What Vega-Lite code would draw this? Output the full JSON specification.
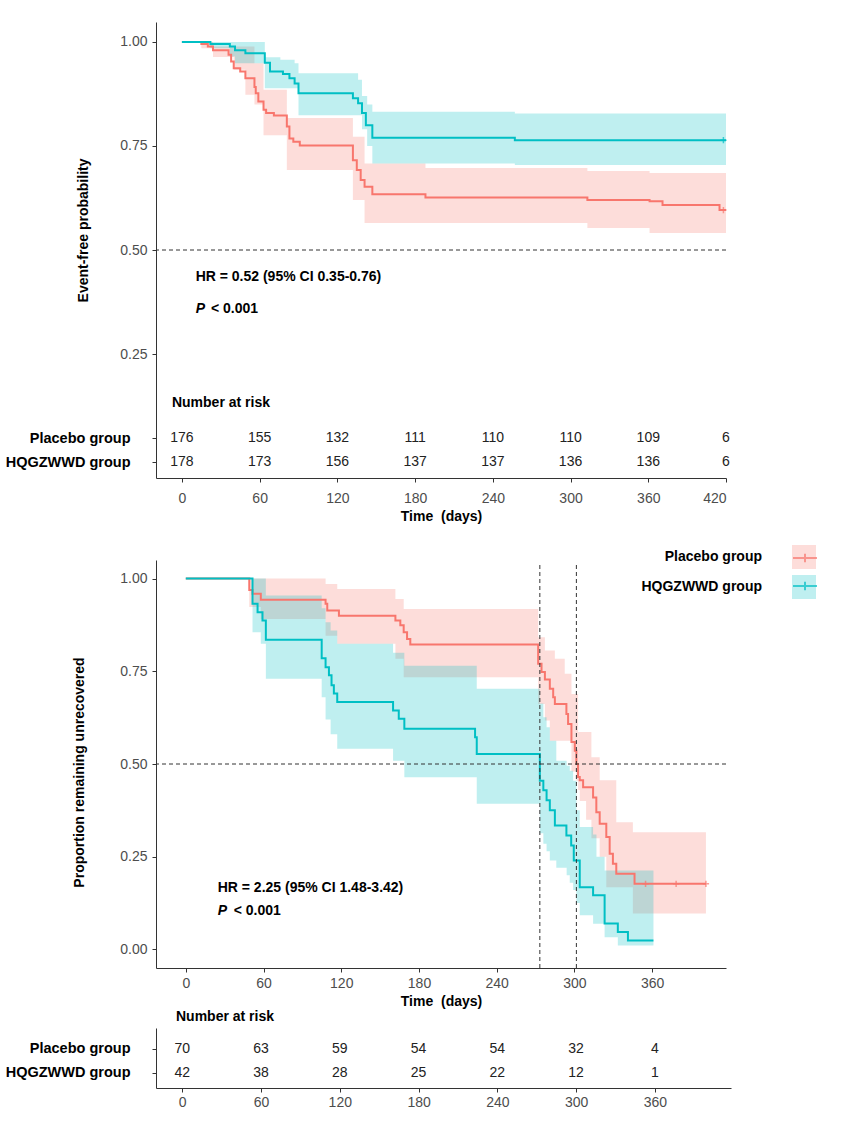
{
  "$schema": "https://vega.github.io/schema/vega-lite/v6.json",
  "background": "white",
  "padding": {"left": 5, "top": 22, "right": 5, "bottom": 5},
  "spacing": 2,
  "resolve": {"scale": {"fill": "independent", "stroke": "independent"}},
  "config": {
    "font": "Liberation Sans",
    "view": {"stroke": null},
    "axis": {"labelFont": "Liberation Sans", "labelFontSize": 14, "labelColor": "#4D4D4D", "titleFont": "Liberation Sans", "titleFontSize": 14, "titleFontWeight": "bold", "titleColor": "#000000", "domainColor": "#333333", "tickColor": "#333333", "tickSize": 4, "grid": false, "domainWidth": 1},
    "text": {"font": "Liberation Sans", "fontSize": 14}
  },
  "datasets": {
    "top_band": [
      {"arm": "Placebo group", "t": 0, "lo": 1, "hi": 1},
      {"arm": "Placebo group", "t": 15, "lo": 0.985, "hi": 1},
      {"arm": "Placebo group", "t": 24, "lo": 0.964, "hi": 0.989},
      {"arm": "Placebo group", "t": 40, "lo": 0.933, "hi": 0.989},
      {"arm": "Placebo group", "t": 49, "lo": 0.873, "hi": 0.989},
      {"arm": "Placebo group", "t": 56, "lo": 0.85, "hi": 0.949},
      {"arm": "Placebo group", "t": 63, "lo": 0.776, "hi": 0.885},
      {"arm": "Placebo group", "t": 81, "lo": 0.692, "hi": 0.817},
      {"arm": "Placebo group", "t": 132, "lo": 0.62, "hi": 0.772},
      {"arm": "Placebo group", "t": 141, "lo": 0.565, "hi": 0.708},
      {"arm": "Placebo group", "t": 188, "lo": 0.565, "hi": 0.697},
      {"arm": "Placebo group", "t": 313, "lo": 0.553, "hi": 0.69},
      {"arm": "Placebo group", "t": 361, "lo": 0.541, "hi": 0.685},
      {"arm": "Placebo group", "t": 420, "lo": 0.541, "hi": 0.685},
      {"arm": "HQGZWWD group", "t": 0, "lo": 1, "hi": 1},
      {"arm": "HQGZWWD group", "t": 22, "lo": 0.985, "hi": 1},
      {"arm": "HQGZWWD group", "t": 37, "lo": 0.965, "hi": 1},
      {"arm": "HQGZWWD group", "t": 41, "lo": 0.949, "hi": 1},
      {"arm": "HQGZWWD group", "t": 64, "lo": 0.889, "hi": 0.963},
      {"arm": "HQGZWWD group", "t": 76, "lo": 0.889, "hi": 0.957},
      {"arm": "HQGZWWD group", "t": 87, "lo": 0.889, "hi": 0.949},
      {"arm": "HQGZWWD group", "t": 90, "lo": 0.824, "hi": 0.925},
      {"arm": "HQGZWWD group", "t": 136, "lo": 0.824, "hi": 0.909},
      {"arm": "HQGZWWD group", "t": 139, "lo": 0.79, "hi": 0.87},
      {"arm": "HQGZWWD group", "t": 143, "lo": 0.75, "hi": 0.85},
      {"arm": "HQGZWWD group", "t": 147, "lo": 0.708, "hi": 0.832},
      {"arm": "HQGZWWD group", "t": 257, "lo": 0.704, "hi": 0.828},
      {"arm": "HQGZWWD group", "t": 420, "lo": 0.704, "hi": 0.828}
    ],
    "top_line": [
      {"group": "Placebo group", "t": 0, "s": 1},
      {"group": "Placebo group", "t": 15, "s": 0.995},
      {"group": "Placebo group", "t": 20, "s": 0.989},
      {"group": "Placebo group", "t": 24, "s": 0.98},
      {"group": "Placebo group", "t": 36, "s": 0.969},
      {"group": "Placebo group", "t": 38, "s": 0.953},
      {"group": "Placebo group", "t": 40, "s": 0.937},
      {"group": "Placebo group", "t": 45, "s": 0.929},
      {"group": "Placebo group", "t": 49, "s": 0.913},
      {"group": "Placebo group", "t": 56, "s": 0.892},
      {"group": "Placebo group", "t": 57, "s": 0.877},
      {"group": "Placebo group", "t": 59, "s": 0.857},
      {"group": "Placebo group", "t": 63, "s": 0.837},
      {"group": "Placebo group", "t": 65, "s": 0.829},
      {"group": "Placebo group", "t": 71, "s": 0.823},
      {"group": "Placebo group", "t": 81, "s": 0.797},
      {"group": "Placebo group", "t": 83, "s": 0.768},
      {"group": "Placebo group", "t": 86, "s": 0.76},
      {"group": "Placebo group", "t": 91, "s": 0.751},
      {"group": "Placebo group", "t": 132, "s": 0.716},
      {"group": "Placebo group", "t": 135, "s": 0.692},
      {"group": "Placebo group", "t": 138, "s": 0.668},
      {"group": "Placebo group", "t": 141, "s": 0.652},
      {"group": "Placebo group", "t": 147, "s": 0.634},
      {"group": "Placebo group", "t": 188, "s": 0.626},
      {"group": "Placebo group", "t": 313, "s": 0.62},
      {"group": "Placebo group", "t": 361, "s": 0.617},
      {"group": "Placebo group", "t": 371, "s": 0.608},
      {"group": "Placebo group", "t": 415, "s": 0.596},
      {"group": "Placebo group", "t": 420, "s": 0.596},
      {"group": "HQGZWWD group", "t": 0, "s": 1},
      {"group": "HQGZWWD group", "t": 22, "s": 0.995},
      {"group": "HQGZWWD group", "t": 37, "s": 0.989},
      {"group": "HQGZWWD group", "t": 41, "s": 0.98},
      {"group": "HQGZWWD group", "t": 49, "s": 0.973},
      {"group": "HQGZWWD group", "t": 64, "s": 0.95},
      {"group": "HQGZWWD group", "t": 68, "s": 0.929},
      {"group": "HQGZWWD group", "t": 78, "s": 0.923},
      {"group": "HQGZWWD group", "t": 83, "s": 0.913},
      {"group": "HQGZWWD group", "t": 87, "s": 0.9},
      {"group": "HQGZWWD group", "t": 90, "s": 0.877},
      {"group": "HQGZWWD group", "t": 132, "s": 0.865},
      {"group": "HQGZWWD group", "t": 136, "s": 0.853},
      {"group": "HQGZWWD group", "t": 139, "s": 0.829},
      {"group": "HQGZWWD group", "t": 142, "s": 0.8},
      {"group": "HQGZWWD group", "t": 147, "s": 0.77},
      {"group": "HQGZWWD group", "t": 257, "s": 0.764},
      {"group": "HQGZWWD group", "t": 420, "s": 0.764}
    ],
    "top_censor": [
      {"group": "HQGZWWD group", "t": 418, "s": 0.764},
      {"group": "Placebo group", "t": 418, "s": 0.596}
    ],
    "top_risk": [
      {"group": "Placebo group", "t": 0, "n": 176},
      {"group": "Placebo group", "t": 60, "n": 155},
      {"group": "Placebo group", "t": 120, "n": 132},
      {"group": "Placebo group", "t": 180, "n": 111},
      {"group": "Placebo group", "t": 240, "n": 110},
      {"group": "Placebo group", "t": 300, "n": 110},
      {"group": "Placebo group", "t": 360, "n": 109},
      {"group": "Placebo group", "t": 420, "n": 6},
      {"group": "HQGZWWD group", "t": 0, "n": 178},
      {"group": "HQGZWWD group", "t": 60, "n": 173},
      {"group": "HQGZWWD group", "t": 120, "n": 156},
      {"group": "HQGZWWD group", "t": 180, "n": 137},
      {"group": "HQGZWWD group", "t": 240, "n": 137},
      {"group": "HQGZWWD group", "t": 300, "n": 136},
      {"group": "HQGZWWD group", "t": 360, "n": 136},
      {"group": "HQGZWWD group", "t": 420, "n": 6}
    ],
    "bot_band": [
      {"arm": "Placebo group", "t": 0, "lo": 1, "hi": 1},
      {"arm": "Placebo group", "t": 49, "lo": 0.923, "hi": 1},
      {"arm": "Placebo group", "t": 57.9, "lo": 0.891, "hi": 1},
      {"arm": "Placebo group", "t": 107.9, "lo": 0.846, "hi": 0.985},
      {"arm": "Placebo group", "t": 116.9, "lo": 0.824, "hi": 0.972},
      {"arm": "Placebo group", "t": 161.8, "lo": 0.784, "hi": 0.945},
      {"arm": "Placebo group", "t": 168.2, "lo": 0.734, "hi": 0.918},
      {"arm": "Placebo group", "t": 272, "lo": 0.662, "hi": 0.842},
      {"arm": "Placebo group", "t": 277.2, "lo": 0.617, "hi": 0.806},
      {"arm": "Placebo group", "t": 281, "lo": 0.563, "hi": 0.806},
      {"arm": "Placebo group", "t": 284.9, "lo": 0.563, "hi": 0.784},
      {"arm": "Placebo group", "t": 292.5, "lo": 0.563, "hi": 0.743},
      {"arm": "Placebo group", "t": 297.7, "lo": 0.48, "hi": 0.689},
      {"arm": "Placebo group", "t": 301.5, "lo": 0.455, "hi": 0.689},
      {"arm": "Placebo group", "t": 302.8, "lo": 0.43, "hi": 0.586},
      {"arm": "Placebo group", "t": 304.1, "lo": 0.4, "hi": 0.586},
      {"arm": "Placebo group", "t": 309, "lo": 0.35, "hi": 0.586},
      {"arm": "Placebo group", "t": 313.1, "lo": 0.3, "hi": 0.518},
      {"arm": "Placebo group", "t": 319.5, "lo": 0.25, "hi": 0.456},
      {"arm": "Placebo group", "t": 324.6, "lo": 0.168, "hi": 0.456},
      {"arm": "Placebo group", "t": 332.3, "lo": 0.168, "hi": 0.343},
      {"arm": "Placebo group", "t": 345.1, "lo": 0.097, "hi": 0.316},
      {"arm": "Placebo group", "t": 401.5, "lo": 0.097, "hi": 0.316},
      {"arm": "HQGZWWD group", "t": 0, "lo": 1, "hi": 1},
      {"arm": "HQGZWWD group", "t": 51.5, "lo": 0.855, "hi": 1},
      {"arm": "HQGZWWD group", "t": 57.9, "lo": 0.824, "hi": 1},
      {"arm": "HQGZWWD group", "t": 61.8, "lo": 0.73, "hi": 0.954},
      {"arm": "HQGZWWD group", "t": 104.9, "lo": 0.68, "hi": 0.92},
      {"arm": "HQGZWWD group", "t": 107.9, "lo": 0.62, "hi": 0.882},
      {"arm": "HQGZWWD group", "t": 111.8, "lo": 0.58, "hi": 0.86},
      {"arm": "HQGZWWD group", "t": 116.9, "lo": 0.541, "hi": 0.824},
      {"arm": "HQGZWWD group", "t": 160, "lo": 0.509, "hi": 0.8},
      {"arm": "HQGZWWD group", "t": 168.7, "lo": 0.464, "hi": 0.765},
      {"arm": "HQGZWWD group", "t": 224.6, "lo": 0.393, "hi": 0.703},
      {"arm": "HQGZWWD group", "t": 273.3, "lo": 0.313, "hi": 0.663},
      {"arm": "HQGZWWD group", "t": 276, "lo": 0.285, "hi": 0.626},
      {"arm": "HQGZWWD group", "t": 278.5, "lo": 0.265, "hi": 0.599},
      {"arm": "HQGZWWD group", "t": 281, "lo": 0.24, "hi": 0.563},
      {"arm": "HQGZWWD group", "t": 286, "lo": 0.22, "hi": 0.509},
      {"arm": "HQGZWWD group", "t": 294, "lo": 0.2, "hi": 0.495},
      {"arm": "HQGZWWD group", "t": 296.4, "lo": 0.18, "hi": 0.482},
      {"arm": "HQGZWWD group", "t": 299, "lo": 0.16, "hi": 0.455},
      {"arm": "HQGZWWD group", "t": 301.5, "lo": 0.125, "hi": 0.375},
      {"arm": "HQGZWWD group", "t": 304.1, "lo": 0.092, "hi": 0.33},
      {"arm": "HQGZWWD group", "t": 314.4, "lo": 0.069, "hi": 0.31},
      {"arm": "HQGZWWD group", "t": 317, "lo": 0.069, "hi": 0.25},
      {"arm": "HQGZWWD group", "t": 323.3, "lo": 0.033, "hi": 0.213},
      {"arm": "HQGZWWD group", "t": 333.5, "lo": 0.011, "hi": 0.213},
      {"arm": "HQGZWWD group", "t": 361, "lo": 0.011, "hi": 0.213}
    ],
    "bot_line": [
      {"group": "Placebo group", "t": 0, "s": 1},
      {"group": "Placebo group", "t": 49, "s": 0.969},
      {"group": "Placebo group", "t": 51.5, "s": 0.959},
      {"group": "Placebo group", "t": 57.9, "s": 0.943},
      {"group": "Placebo group", "t": 107.9, "s": 0.932},
      {"group": "Placebo group", "t": 109.2, "s": 0.914},
      {"group": "Placebo group", "t": 118.2, "s": 0.9},
      {"group": "Placebo group", "t": 161.8, "s": 0.887},
      {"group": "Placebo group", "t": 165.6, "s": 0.874},
      {"group": "Placebo group", "t": 168.2, "s": 0.855},
      {"group": "Placebo group", "t": 170.8, "s": 0.837},
      {"group": "Placebo group", "t": 173.3, "s": 0.822},
      {"group": "Placebo group", "t": 272, "s": 0.77},
      {"group": "Placebo group", "t": 274.6, "s": 0.748},
      {"group": "Placebo group", "t": 277.2, "s": 0.728},
      {"group": "Placebo group", "t": 281, "s": 0.703},
      {"group": "Placebo group", "t": 283.6, "s": 0.68},
      {"group": "Placebo group", "t": 284.9, "s": 0.662},
      {"group": "Placebo group", "t": 293.8, "s": 0.635},
      {"group": "Placebo group", "t": 295.1, "s": 0.608},
      {"group": "Placebo group", "t": 297.7, "s": 0.559},
      {"group": "Placebo group", "t": 300.3, "s": 0.536},
      {"group": "Placebo group", "t": 301.5, "s": 0.5},
      {"group": "Placebo group", "t": 302.8, "s": 0.465},
      {"group": "Placebo group", "t": 304.1, "s": 0.456},
      {"group": "Placebo group", "t": 306.7, "s": 0.437},
      {"group": "Placebo group", "t": 314.4, "s": 0.41},
      {"group": "Placebo group", "t": 316.9, "s": 0.37},
      {"group": "Placebo group", "t": 319.5, "s": 0.339},
      {"group": "Placebo group", "t": 324.6, "s": 0.303},
      {"group": "Placebo group", "t": 327.2, "s": 0.258},
      {"group": "Placebo group", "t": 329.7, "s": 0.231},
      {"group": "Placebo group", "t": 332.3, "s": 0.204},
      {"group": "Placebo group", "t": 346.4, "s": 0.177},
      {"group": "Placebo group", "t": 401.5, "s": 0.177},
      {"group": "HQGZWWD group", "t": 0, "s": 1},
      {"group": "HQGZWWD group", "t": 51.5, "s": 0.932},
      {"group": "HQGZWWD group", "t": 55.4, "s": 0.909},
      {"group": "HQGZWWD group", "t": 59.2, "s": 0.887},
      {"group": "HQGZWWD group", "t": 61.8, "s": 0.835},
      {"group": "HQGZWWD group", "t": 104.9, "s": 0.785},
      {"group": "HQGZWWD group", "t": 107.9, "s": 0.761},
      {"group": "HQGZWWD group", "t": 110.5, "s": 0.739},
      {"group": "HQGZWWD group", "t": 112.5, "s": 0.712},
      {"group": "HQGZWWD group", "t": 114.3, "s": 0.69},
      {"group": "HQGZWWD group", "t": 116.9, "s": 0.667},
      {"group": "HQGZWWD group", "t": 160, "s": 0.644},
      {"group": "HQGZWWD group", "t": 164.4, "s": 0.622},
      {"group": "HQGZWWD group", "t": 168.7, "s": 0.595},
      {"group": "HQGZWWD group", "t": 223.3, "s": 0.572},
      {"group": "HQGZWWD group", "t": 224.6, "s": 0.527},
      {"group": "HQGZWWD group", "t": 273.3, "s": 0.455},
      {"group": "HQGZWWD group", "t": 276, "s": 0.429},
      {"group": "HQGZWWD group", "t": 278.5, "s": 0.402},
      {"group": "HQGZWWD group", "t": 281, "s": 0.375},
      {"group": "HQGZWWD group", "t": 284.9, "s": 0.334},
      {"group": "HQGZWWD group", "t": 293.8, "s": 0.307},
      {"group": "HQGZWWD group", "t": 297.5, "s": 0.28},
      {"group": "HQGZWWD group", "t": 299.5, "s": 0.24},
      {"group": "HQGZWWD group", "t": 304.1, "s": 0.168},
      {"group": "HQGZWWD group", "t": 314.4, "s": 0.146},
      {"group": "HQGZWWD group", "t": 323.3, "s": 0.07},
      {"group": "HQGZWWD group", "t": 333.5, "s": 0.047},
      {"group": "HQGZWWD group", "t": 341.3, "s": 0.024},
      {"group": "HQGZWWD group", "t": 361, "s": 0.024}
    ],
    "bot_censor": [
      {"group": "Placebo group", "t": 354.9, "s": 0.177},
      {"group": "Placebo group", "t": 378.5, "s": 0.177},
      {"group": "Placebo group", "t": 401.5, "s": 0.177}
    ],
    "medians": [
      {"group": "HQGZWWD group", "t": 273.3},
      {"group": "Placebo group", "t": 301.5}
    ],
    "bot_risk": [
      {"group": "Placebo group", "t": 0, "n": 70},
      {"group": "Placebo group", "t": 60, "n": 63},
      {"group": "Placebo group", "t": 120, "n": 59},
      {"group": "Placebo group", "t": 180, "n": 54},
      {"group": "Placebo group", "t": 240, "n": 54},
      {"group": "Placebo group", "t": 300, "n": 32},
      {"group": "Placebo group", "t": 360, "n": 4},
      {"group": "HQGZWWD group", "t": 0, "n": 42},
      {"group": "HQGZWWD group", "t": 60, "n": 38},
      {"group": "HQGZWWD group", "t": 120, "n": 28},
      {"group": "HQGZWWD group", "t": 180, "n": 25},
      {"group": "HQGZWWD group", "t": 240, "n": 22},
      {"group": "HQGZWWD group", "t": 300, "n": 12},
      {"group": "HQGZWWD group", "t": 360, "n": 1}
    ]
  },
  "vconcat": [
    {
      "width": 570,
      "height": 456,
      "layer": [
        {
          "data": {"name": "top_band"},
          "mark": {"type": "area", "interpolate": "step-after", "fillOpacity": 0.25},
          "encoding": {
            "x": {"field": "t", "type": "quantitative", "scale": {"domain": [-20, 420], "nice": false, "zero": false},
              "axis": {"title": "Time \u00a0(days)", "values": [0, 60, 120, 180, 240, 300, 360, 420], "labelPadding": 9, "titlePadding": 4}},
            "y": {"field": "lo", "type": "quantitative", "scale": {"domain": [-0.048, 1.048], "nice": false, "zero": false},
              "axis": {"title": "Event-free probability", "values": [-0.01, 0.048, 0.25, 0.5, 0.75, 1],
                "labelExpr": "datum.value < 0 ? 'HQGZWWD group' : (datum.value < 0.1 ? 'Placebo group' : format(datum.value, '.2f'))",
                "labelFontWeight": {"condition": {"test": "datum.value < 0.1", "value": "bold"}, "value": "normal"},
                "labelFontSize": {"condition": {"test": "datum.value < 0.1", "value": 14.5}, "value": 14},
                "labelColor": {"condition": {"test": "datum.value < 0.1", "value": "#000000"}, "value": "#4D4D4D"},
                "labelPadding": {"condition": {"test": "datum.value < 0.1", "value": 22}, "value": 5},
                "titleX": -73, "titleY": 208, "titleBaseline": "middle"}},
            "y2": {"field": "hi"},
            "fill": {"field": "arm", "type": "nominal", "sort": "descending", "scale": {"range": ["#F8766D", "#00BFC4"]}, "legend": null}
          }
        },
        {
          "data": {"name": "top_line"},
          "mark": {"type": "line", "interpolate": "step-after", "strokeWidth": 2},
          "encoding": {
            "x": {"field": "t", "type": "quantitative"},
            "y": {"field": "s", "type": "quantitative"},
            "stroke": {"field": "group", "type": "nominal", "sort": "descending", "scale": {"range": ["#F8766D", "#00BFC4"]}, "legend": null}
          }
        },
        {
          "data": {"name": "top_censor"},
          "mark": {"type": "point", "shape": "M0,-1V1M-1,0H1", "filled": false, "size": 40, "strokeWidth": 1.5},
          "encoding": {
            "x": {"field": "t", "type": "quantitative"},
            "y": {"field": "s", "type": "quantitative"},
            "stroke": {"field": "group", "type": "nominal", "sort": "descending", "legend": null}
          }
        },
        {
          "data": {"values": [{}]},
          "mark": {"type": "rule", "strokeDash": [4, 3], "color": "#333333", "strokeWidth": 1},
          "encoding": {"y": {"datum": 0.5}}
        },
        {
          "data": {"values": [{}]},
          "mark": {"type": "text", "align": "left", "baseline": "middle", "fontWeight": "bold", "color": "#000000"},
          "encoding": {"x": {"datum": 10.6}, "y": {"datum": 0.435}, "text": {"value": "HR = 0.52 (95% CI 0.35-0.76)"}}
        },
        {
          "data": {"values": [{}]},
          "mark": {"type": "text", "align": "left", "baseline": "middle", "fontWeight": "bold", "fontStyle": "italic", "color": "#000000"},
          "encoding": {"x": {"datum": 10.6}, "y": {"datum": 0.358}, "text": {"value": "P"}}
        },
        {
          "data": {"values": [{}]},
          "mark": {"type": "text", "align": "left", "baseline": "middle", "fontWeight": "bold", "color": "#000000"},
          "encoding": {"x": {"datum": 22.4}, "y": {"datum": 0.358}, "text": {"value": "< 0.001"}}
        },
        {
          "data": {"values": [{}]},
          "mark": {"type": "text", "align": "left", "baseline": "middle", "fontWeight": "bold", "color": "#000000"},
          "encoding": {"x": {"datum": -7.7}, "y": {"datum": 0.132}, "text": {"value": "Number at risk"}}
        },
        {
          "data": {"name": "top_risk"},
          "transform": [{"filter": "datum.group == 'Placebo group'"}],
          "mark": {"type": "text", "align": "center", "baseline": "middle", "color": "#222222"},
          "encoding": {"x": {"field": "t", "type": "quantitative"}, "y": {"datum": 0.048}, "text": {"field": "n", "type": "quantitative"}}
        },
        {
          "data": {"name": "top_risk"},
          "transform": [{"filter": "datum.group == 'HQGZWWD group'"}],
          "mark": {"type": "text", "align": "center", "baseline": "middle", "color": "#222222"},
          "encoding": {"x": {"field": "t", "type": "quantitative"}, "y": {"datum": -0.01}, "text": {"field": "n", "type": "quantitative"}}
        }
      ]
    },
    {
      "width": 570,
      "height": 408,
      "layer": [
        {
          "data": {"name": "bot_band"},
          "mark": {"type": "area", "interpolate": "step-after", "fillOpacity": 0.25},
          "encoding": {
            "x": {"field": "t", "type": "quantitative", "scale": {"domain": [-23, 417], "nice": false, "zero": false},
              "axis": {"title": "Time \u00a0(days)", "values": [0, 60, 120, 180, 240, 300, 360], "labelPadding": 4, "titlePadding": 4}},
            "y": {"field": "lo", "type": "quantitative", "scale": {"domain": [-0.05, 1.05], "nice": false, "zero": false},
              "axis": {"title": "Proportion remaining unrecovered", "values": [0, 0.25, 0.5, 0.75, 1], "format": ".2f", "labelPadding": 5,
                "titleX": -77, "titleY": 212, "titleBaseline": "middle"}},
            "y2": {"field": "hi"},
            "fill": {"field": "arm", "type": "nominal", "sort": "descending", "scale": {"range": ["#F8766D", "#00BFC4"]},
              "legend": {"orient": "none", "legendX": 616, "legendY": -35, "title": null, "padding": 20, "direction": "vertical",
                "symbolType": "square", "symbolSize": 576, "symbolOpacity": 0.25, "symbolStrokeWidth": 0,
                "labelAlign": "right", "labelOffset": -54, "labelFont": "Liberation Sans", "labelFontSize": 14, "labelFontWeight": "bold", "labelColor": "#000000", "rowPadding": 6}}
          }
        },
        {
          "data": {"name": "bot_line"},
          "mark": {"type": "line", "interpolate": "step-after", "strokeWidth": 2},
          "encoding": {
            "x": {"field": "t", "type": "quantitative"},
            "y": {"field": "s", "type": "quantitative"},
            "stroke": {"field": "group", "type": "nominal", "sort": "descending", "scale": {"range": ["#F8766D", "#00BFC4"]},
              "legend": {"orient": "none", "legendX": 616, "legendY": -35, "title": null, "padding": 20, "direction": "vertical",
                "symbolType": "M-1,0H1M0,-0.35V0.35", "symbolSize": 576, "symbolStrokeWidth": 2, "symbolFillColor": "transparent",
                "labelAlign": "right", "labelOffset": -54, "labelFont": "Liberation Sans", "labelFontSize": 14, "labelFontWeight": "bold", "labelOpacity": 0, "rowPadding": 6}}
          }
        },
        {
          "data": {"name": "bot_censor"},
          "mark": {"type": "point", "shape": "M0,-1V1M-1,0H1", "filled": false, "size": 40, "strokeWidth": 1.5},
          "encoding": {
            "x": {"field": "t", "type": "quantitative"},
            "y": {"field": "s", "type": "quantitative"},
            "stroke": {"field": "group", "type": "nominal", "sort": "descending"}
          }
        },
        {
          "data": {"values": [{}]},
          "mark": {"type": "rule", "strokeDash": [4, 3], "color": "#333333", "strokeWidth": 1},
          "encoding": {"y": {"datum": 0.5}}
        },
        {
          "data": {"name": "medians"},
          "mark": {"type": "rule", "strokeDash": [4, 3], "color": "#333333", "strokeWidth": 1},
          "encoding": {"x": {"field": "t", "type": "quantitative"}, "y": {"datum": -0.05}, "y2": {"datum": 1.043}}
        },
        {
          "data": {"values": [{}]},
          "mark": {"type": "text", "align": "left", "baseline": "middle", "fontWeight": "bold", "color": "#000000"},
          "encoding": {"x": {"datum": 24.6}, "y": {"datum": 0.167}, "text": {"value": "HR = 2.25 (95% CI 1.48-3.42)"}}
        },
        {
          "data": {"values": [{}]},
          "mark": {"type": "text", "align": "left", "baseline": "middle", "fontWeight": "bold", "fontStyle": "italic", "color": "#000000"},
          "encoding": {"x": {"datum": 24.6}, "y": {"datum": 0.105}, "text": {"value": "P"}}
        },
        {
          "data": {"values": [{}]},
          "mark": {"type": "text", "align": "left", "baseline": "middle", "fontWeight": "bold", "color": "#000000"},
          "encoding": {"x": {"datum": 37}, "y": {"datum": 0.105}, "text": {"value": "< 0.001"}}
        }
      ]
    },
    {
      "width": 575,
      "height": 60,
      "title": {"text": "Number at risk", "anchor": "start", "frame": "group", "fontSize": 14, "fontWeight": "bold", "font": "Liberation Sans", "color": "#000000", "offset": 4, "dx": 20},
      "data": {"name": "bot_risk"},
      "mark": {"type": "text", "align": "center", "baseline": "middle", "color": "#222222"},
      "encoding": {
        "x": {"field": "t", "type": "quantitative", "scale": {"domain": [-20, 418], "nice": false, "zero": false},
          "axis": {"title": null, "values": [0, 60, 120, 180, 240, 300, 360], "labelPadding": 3}},
        "y": {"field": "group", "type": "nominal", "sort": ["Placebo group", "HQGZWWD group"], "scale": {"type": "point", "padding": 0.75, "align": 0.58},
          "axis": {"title": null, "labelFontWeight": "bold", "labelFontSize": 14.5, "labelColor": "#000000", "labelPadding": 22}},
        "text": {"field": "n", "type": "quantitative"}
      }
    }
  ]
}
